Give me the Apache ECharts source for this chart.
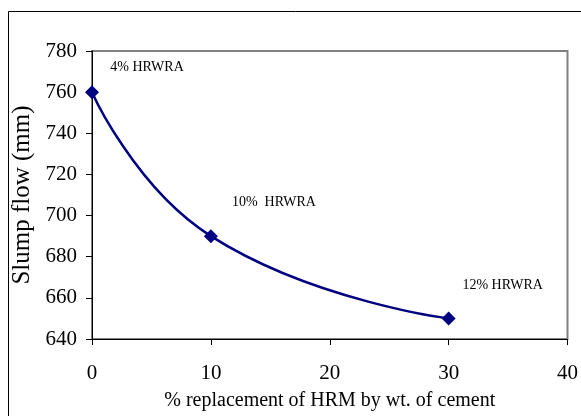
<!DOCTYPE html>
<html>
<head>
<meta charset="utf-8">
<script src="https://cdn.jsdelivr.net/npm/echarts@6/dist/echarts.min.js"></script>
<style>
html,body{margin:0;padding:0;background:#fff;}
#chart{width:581px;height:416px;}
</style>
</head>
<body>
<div id="chart"></div>
<script>
var replacement = [0, 10, 30];
var slumpFlow = [760, 690, 650];
var annotations = ['4% HRWRA', '10%  HRWRA', '12% HRWRA'];
var xTicks = [0, 10, 20, 30, 40];
var yTicks = [640, 660, 680, 700, 720, 740, 760, 780];

var FONT = "'Liberation Serif', 'Times New Roman', serif";
var labelOffsets = [[55, -25], [63, -34], [54, -33]];

var chart = echarts.init(document.getElementById('chart'), null, {renderer: 'canvas'});
var seriesData = replacement.map(function (x, i) {
  return {
    value: [x, slumpFlow[i]],
    label: {
      show: true,
      position: 'inside',
      offset: labelOffsets[i],
      formatter: annotations[i],
      color: '#000',
      fontFamily: FONT,
      fontSize: 14
    }
  };
});

chart.setOption({
  animation: false,
  backgroundColor: '#fff',
  graphic: [{
    type: 'rect',
    shape: {x: 8.5, y: 11.5, width: 700, height: 600},
    style: {fill: 'none', stroke: '#000', lineWidth: 1},
    silent: true,
    z: -10
  }],
  grid: {
    left: 92, right: 12, top: 51, bottom: 72,
    show: true,
    borderColor: '#808080',
    borderWidth: 2,
    backgroundColor: 'transparent'
  },
  xAxis: {
    type: 'value',
    min: xTicks[0], max: xTicks[xTicks.length - 1], interval: 10,
    name: '% replacement of HRM by wt. of cement',
    nameLocation: 'middle',
    nameGap: 52,
    nameTextStyle: {fontFamily: FONT, fontSize: 20, color: '#000'},
    axisLine: {show: true, onZero: false, lineStyle: {color: '#000', width: 1}},
    axisTick: {show: true, inside: false, length: 6, lineStyle: {color: '#000'}},
    axisLabel: {margin: 24, fontFamily: FONT, fontSize: 21, color: '#000'},
    splitLine: {show: false}
  },
  yAxis: {
    type: 'value',
    min: yTicks[0], max: yTicks[yTicks.length - 1], interval: 20,
    name: 'Slump flow (mm)',
    nameLocation: 'middle',
    nameGap: 49,
    nameTextStyle: {fontFamily: FONT, fontSize: 25, color: '#000'},
    axisLine: {show: true, onZero: false, lineStyle: {color: '#000', width: 1}},
    axisTick: {show: true, inside: false, length: 6, lineStyle: {color: '#000'}},
    axisLabel: {margin: 15, fontFamily: FONT, fontSize: 21, color: '#000'},
    splitLine: {show: false}
  },
  series: [{
    type: 'line',
    data: seriesData,
    smooth: 0.5,
    symbol: 'diamond',
    symbolSize: 14,
    itemStyle: {color: '#000080'},
    lineStyle: {color: '#000080', width: 2.5}
  }]
});
</script>
</body>
</html>
